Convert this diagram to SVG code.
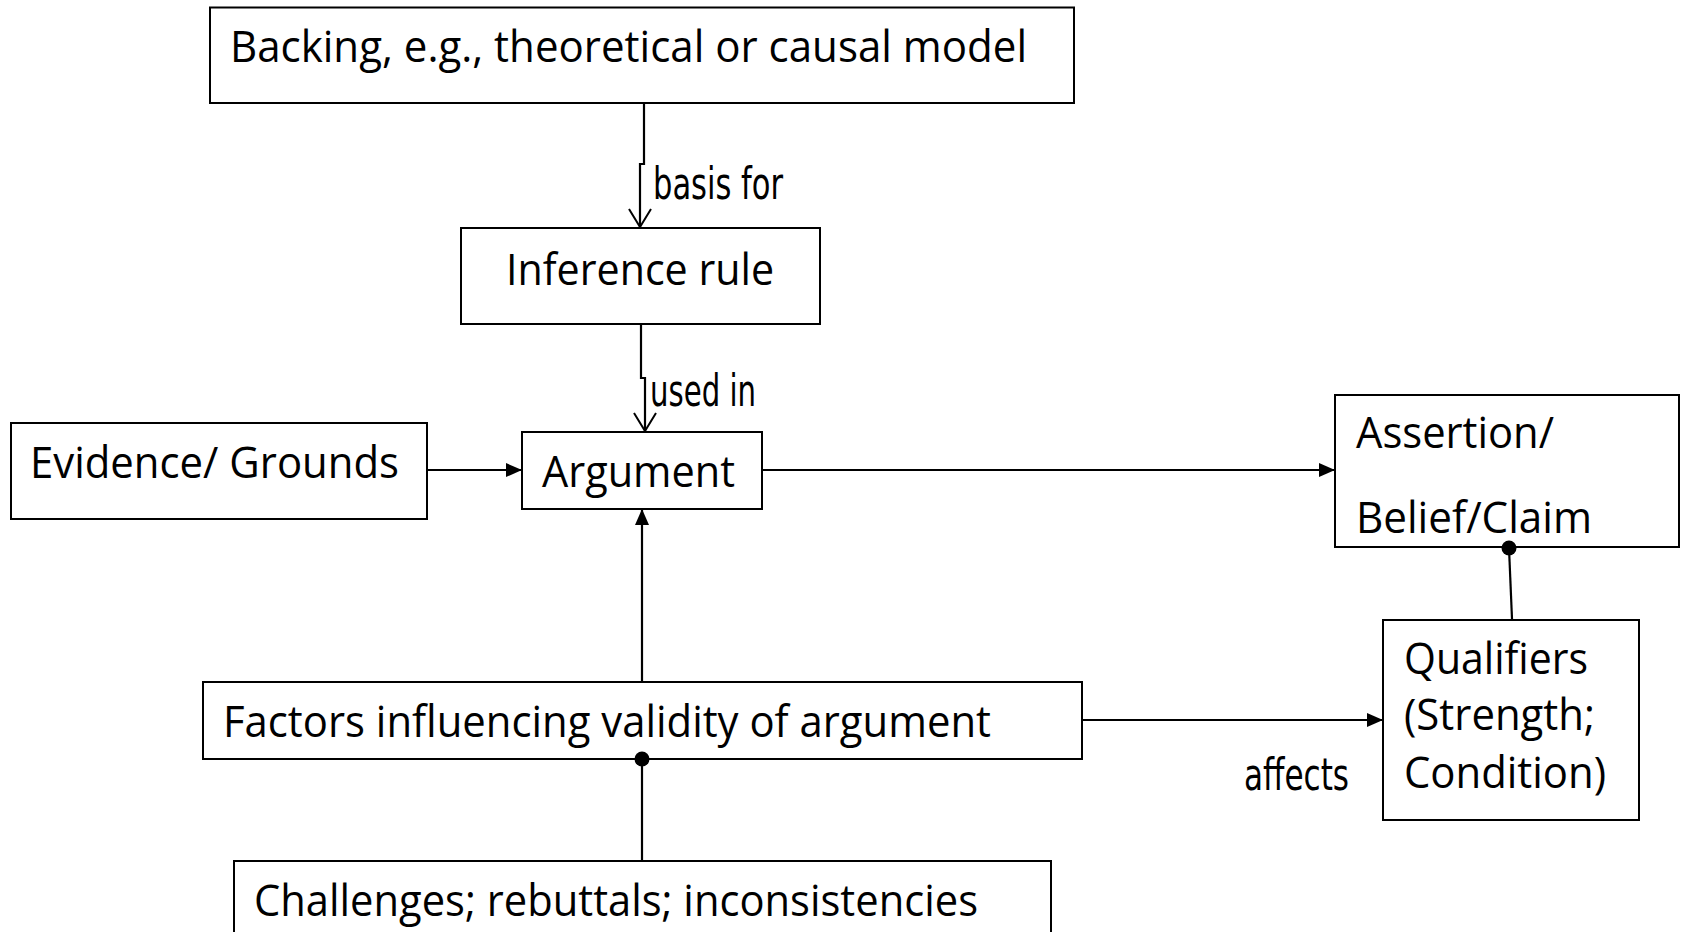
<svg xmlns="http://www.w3.org/2000/svg" width="1681" height="932" viewBox="0 0 1681 932">
  <style>
    .box { fill: #ffffff; stroke: #000000; stroke-width: 2; }
    .t { font-family: "Open Sans", "Noto Sans", sans-serif; font-size: 44px; fill: #000000; }
    .lbl { font-family: "DejaVu Sans Condensed", "DejaVu Sans", sans-serif; font-stretch: condensed; font-size: 44px; fill: #000000; }
    .ln { fill: none; stroke: #000000; stroke-width: 2.2; }
    .dot { fill: #000000; }
  </style>
  <defs>
    <marker id="solid" viewBox="0 0 16 14" refX="15" refY="7" markerWidth="16" markerHeight="14" markerUnits="userSpaceOnUse" orient="auto">
      <path d="M0,0 L16,7 L0,14 Z" fill="#000000"/>
    </marker>
    <marker id="open" viewBox="0 0 20 24" refX="19" refY="12" markerWidth="20" markerHeight="24" markerUnits="userSpaceOnUse" orient="auto">
      <path d="M1,1 L19,12 L1,23" fill="none" stroke="#000000" stroke-width="2"/>
    </marker>
  </defs>

  <rect width="1681" height="932" fill="#ffffff"/>

  <g id="backing">
    <rect class="box" x="210" y="7.5" width="864" height="95.5"/>
    <text class="t" x="230" y="62" textLength="797" lengthAdjust="spacingAndGlyphs">Backing, e.g., theoretical or causal model</text>
  </g>

  <g id="inference-rule">
    <rect class="box" x="461" y="228" width="359" height="96"/>
    <text class="t" x="506" y="285" textLength="268" lengthAdjust="spacingAndGlyphs">Inference rule</text>
  </g>

  <g id="evidence">
    <rect class="box" x="11" y="423" width="416" height="96"/>
    <text class="t" x="30" y="478" textLength="369" lengthAdjust="spacingAndGlyphs">Evidence/ Grounds</text>
  </g>

  <g id="argument">
    <rect class="box" x="522" y="432" width="240" height="77"/>
    <text class="t" x="542" y="487" textLength="193" lengthAdjust="spacingAndGlyphs">Argument</text>
  </g>

  <g id="assertion">
    <rect class="box" x="1335" y="395" width="344" height="152"/>
    <text class="t" x="1356" y="448" textLength="198" lengthAdjust="spacingAndGlyphs">Assertion/</text>
    <text class="t" x="1356" y="533" textLength="236" lengthAdjust="spacingAndGlyphs">Belief/Claim</text>
  </g>

  <g id="qualifiers">
    <rect class="box" x="1383" y="620" width="256" height="200"/>
    <text class="t" x="1404" y="674" textLength="184" lengthAdjust="spacingAndGlyphs">Qualifiers</text>
    <text class="t" x="1404" y="730" textLength="191" lengthAdjust="spacingAndGlyphs">(Strength;</text>
    <text class="t" x="1404" y="788" textLength="202" lengthAdjust="spacingAndGlyphs">Condition)</text>
  </g>

  <g id="factors">
    <rect class="box" x="203" y="682" width="879" height="77"/>
    <text class="t" x="223" y="737" textLength="768" lengthAdjust="spacingAndGlyphs">Factors influencing validity of argument</text>
  </g>

  <g id="challenges">
    <rect class="box" x="234" y="861" width="817" height="90"/>
    <text class="t" x="254" y="916" textLength="724" lengthAdjust="spacingAndGlyphs">Challenges; rebuttals; inconsistencies</text>
  </g>

  <g id="connectors">
    <!-- backing to inference rule -->
    <path class="ln" d="M644,104 V164 H640 V227" marker-end="url(#open)"/>
    <!-- inference rule to argument -->
    <path class="ln" d="M641,325 V378 H645 V431" marker-end="url(#open)"/>
    <!-- evidence to argument -->
    <path class="ln" d="M428,470 H521" marker-end="url(#solid)"/>
    <!-- argument to assertion -->
    <path class="ln" d="M763,470 H1334" marker-end="url(#solid)"/>
    <!-- factors to argument -->
    <path class="ln" d="M642,681 V510" marker-end="url(#solid)"/>
    <!-- factors to qualifiers -->
    <path class="ln" d="M1083,720 H1382" marker-end="url(#solid)"/>
    <!-- qualifiers attached to assertion -->
    <path class="ln" d="M1512,619 L1509,548"/>
    <circle class="dot" cx="1509" cy="548" r="7.5"/>
    <!-- challenges attached to factors -->
    <path class="ln" d="M642,860 V759"/>
    <circle class="dot" cx="642" cy="759" r="7.5"/>
    <!-- connector labels -->
    <text class="lbl" x="653" y="199" textLength="130" lengthAdjust="spacingAndGlyphs">basis for</text>
    <text class="lbl" x="650" y="406" textLength="106" lengthAdjust="spacingAndGlyphs">used in</text>
    <text class="lbl" x="1244" y="790" textLength="105" lengthAdjust="spacingAndGlyphs">affects</text>
  </g>
</svg>
